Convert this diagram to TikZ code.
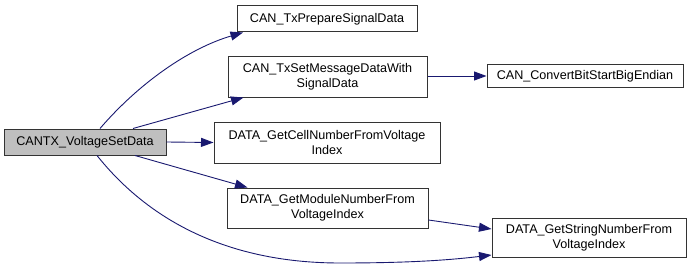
\documentclass[tikz,border=0pt]{standalone}
\usepackage{fontspec}
\setmainfont{Liberation Sans}
\usepackage{xcolor}
\usepackage{tikz}
\usetikzlibrary{arrows.meta,positioning}
\definecolor{callblue}{RGB}{25,25,112}
\definecolor{rootgray}{RGB}{191,191,191}

\begin{document}
\begin{tikzpicture}[x=1pt,y=-1pt,
    font=\fontsize{12.6}{15}\selectfont,
    fn/.style={draw=black!80, line width=1pt, fill=white, inner sep=0pt, align=center},
    call/.style={draw=callblue, line width=0.9pt, -{Triangle[length=12.5pt,width=9pt]}}]
    \useasboundingbox (0,0) rectangle (696,270);
    \node[fn, fill=rootgray, minimum width=162, minimum height=26] (root) at (85,142) {CANTX\_VoltageSetData};
    \node[fn, minimum width=180, minimum height=26] (prep) at (327,19) {CAN\_TxPrepareSignalData};
    \node[fn, minimum width=199, minimum height=40] (setm) at (327.5,77) {CAN\_TxSetMessageDataWith\\SignalData};
    \node[fn, minimum width=196, minimum height=22] (conv) at (585,76) {CAN\_ConvertBitStartBigEndian};
    \node[fn, minimum width=226, minimum height=41] (cell) at (327,142.5) {DATA\_GetCellNumberFromVoltage\\Index};
    \node[fn, minimum width=201, minimum height=40] (mod) at (327.5,208) {DATA\_GetModuleNumberFrom\\VoltageIndex};
    \node[fn, minimum width=194, minimum height=39] (str) at (589,237.5) {DATA\_GetStringNumberFrom\\VoltageIndex};

    \draw[call] ([xshift=15]root.north) .. controls (140,82) and (190,48) .. ([xshift=-84]prep.south);
    \draw[call] ([xshift=48]root.north) -- ([xshift=-84]setm.south);
    \draw[call] (root.east) -- (cell.west);
    \draw[call] ([xshift=50]root.south) -- ([xshift=-80]mod.north);
    \draw[call] ([xshift=12]root.south) .. controls (150,222) and (230,263) .. (340,263)
        .. controls (410,263) and (450,260) .. ([yshift=-17.5]str.west);
    \draw[call] ([yshift=-12]mod.east) -- ([yshift=8.5]str.west);
    \draw[call] ([yshift=1]setm.east) -- (conv.west);
  \end{tikzpicture}
\end{document}
